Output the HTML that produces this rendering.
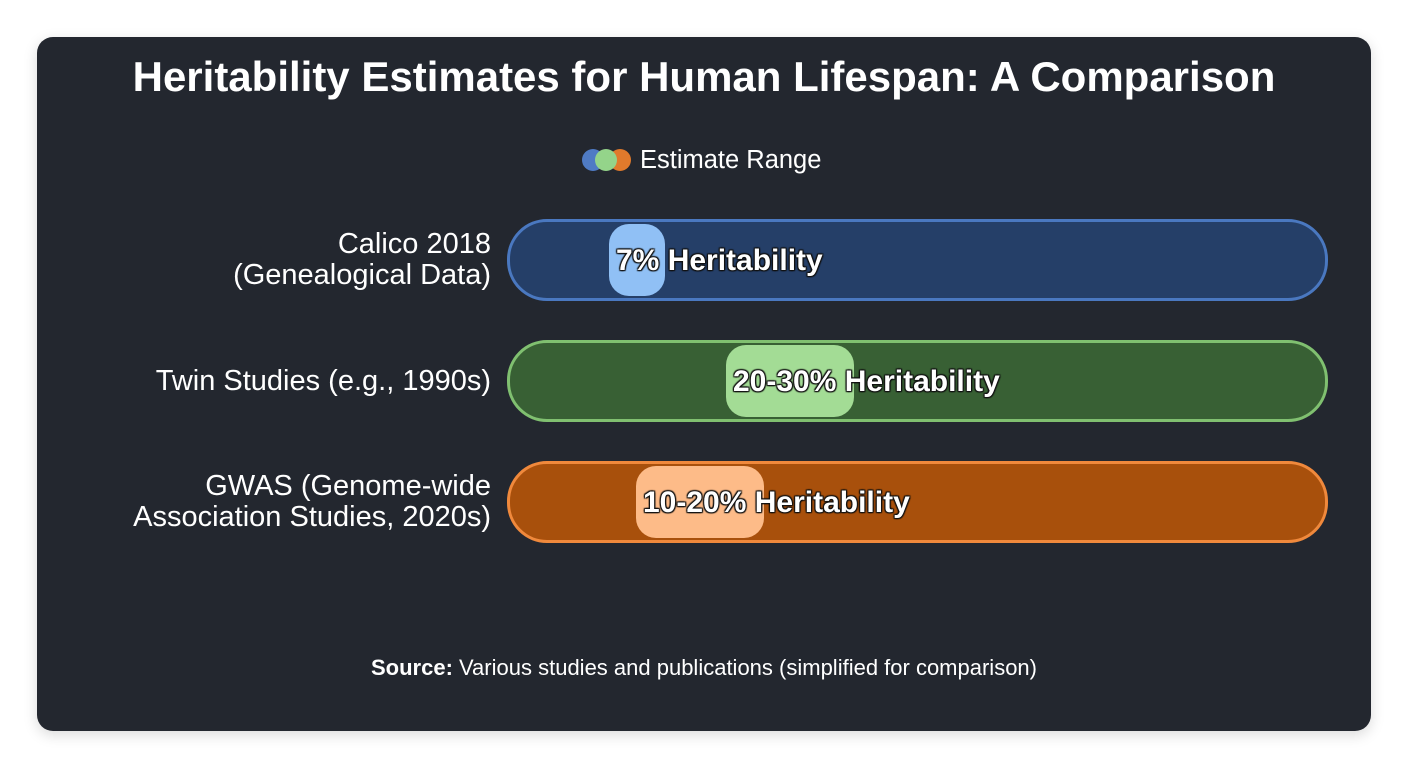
<!DOCTYPE html>
<html><head><meta charset="utf-8"><style>
body{margin:0;width:1408px;height:768px;background:#fff;font-family:"Liberation Sans",sans-serif;overflow:hidden}
#card{position:absolute;left:37px;top:37px;width:1334px;height:694px;background:#23272f;border-radius:16px;box-shadow:0 4px 14px rgba(0,0,0,.15)}
h1{position:absolute;left:0;width:1408px;top:53px;margin:0;text-align:center;color:#fff;font-size:42px;font-weight:bold}
.lbl{position:absolute;right:917px;color:#fff;font-size:29px;text-align:right;line-height:31px;white-space:nowrap}
.track{position:absolute;left:507px;width:815px;height:76px;border-radius:40px;border:3px solid}
.seg{position:absolute;top:2px;height:72px;border-radius:20px}
.txt{position:absolute;color:#fff;font-size:30px;font-weight:bold;white-space:nowrap;text-shadow:0 0 2px #111,1px 1px 1px #111,-1px -1px 1px #111,1px -1px 1px #111,-1px 1px 1px #111;top:22px}
</style></head><body>
<div id="card"></div>
<h1>Heritability Estimates for Human Lifespan: A Comparison</h1>
<div style="position:absolute;left:582px;top:146px;height:28px;">
 <span style="position:absolute;left:0;top:3px;width:22px;height:22px;border-radius:50%;background:#4f7bc4"></span>
 <span style="position:absolute;left:27px;top:3px;width:22px;height:22px;border-radius:50%;background:#e07a2c"></span>
 <span style="position:absolute;left:13px;top:3px;width:22px;height:22px;border-radius:50%;background:#94d48a"></span>
 <span style="position:absolute;left:58px;top:0;color:#fff;font-size:25.5px;white-space:nowrap">Estimate Range</span>
</div>
<div id="chart"></div>
<div style="position:absolute;left:0;width:1408px;top:655px;text-align:center;color:#fff;font-size:22px"><b>Source:</b> Various studies and publications (simplified for comparison)</div>
<script>
const categories=["Calico 2018<br>(Genealogical Data)","Twin Studies (e.g., 1990s)","GWAS (Genome-wide<br>Association Studies, 2020s)"];
const rangeStart=[7,20,10];
const rangeEnd=[7,30,20];
const valueLabels=["7%","20-30%","10-20%"];
const trackFill=["#253f68","#386034","#a8500c"];
const trackBorder=["#4a78c0","#80c070","#f0893c"];
const segFill=["#90c0f5","#a3dc95","#fdbb88"];
function xScale(v){return 36+9*v;}
const chart=document.getElementById('chart');
categories.forEach((c,i)=>{
 const top=219+i*121;
 const l=document.createElement('div');l.className='lbl';
 
 
 l.innerHTML=c;
 const lines=c.split('<br>').length;
 l.style.top=(top+42-lines*15.5-1)+'px';
 chart.appendChild(l);
 const t=document.createElement('div');t.className='track';
 
 
 t.style.top=top+'px';t.style.background=trackFill[i];t.style.borderColor=trackBorder[i];
 chart.appendChild(t);
 const s=document.createElement('div');s.className='seg';
 
 
 const x0=xScale(rangeStart[i]);
 const w=Math.max(xScale(rangeEnd[i])-x0,valueLabels[i].length*18+20);
 s.style.left=x0+'px';s.style.width=w+'px';s.style.background=segFill[i];
 t.appendChild(s);
 const tx=document.createElement('div');tx.className='txt';
 
 
 tx.textContent=valueLabels[i]+' Heritability';
 tx.style.left=(x0+7)+'px';
 t.appendChild(tx);
});
</script>
</body></html>
